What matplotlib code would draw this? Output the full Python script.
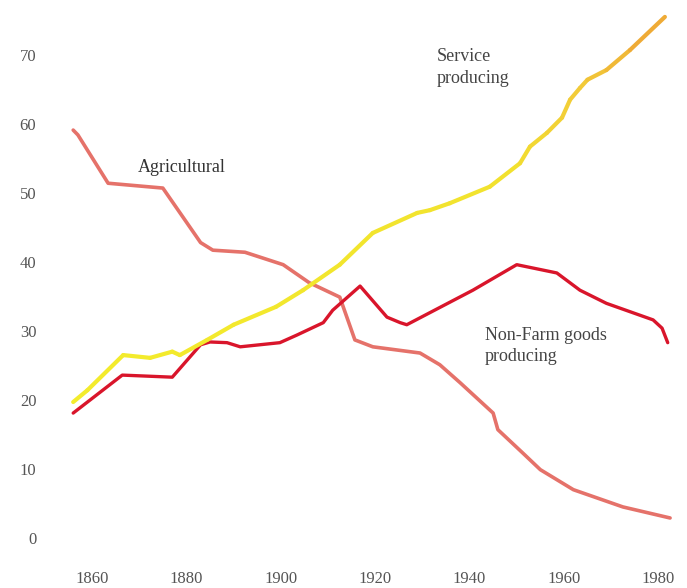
import numpy as np
import matplotlib.pyplot as plt
from matplotlib.collections import LineCollection
from matplotlib.colors import LinearSegmentedColormap

# share of employment (%)
agri_years = [1856, 1857, 1863.4, 1875, 1883, 1885.6, 1892.4, 1900.5, 1906, 1912.5,
              1915.7, 1919.5, 1929.5, 1933.7, 1938, 1945, 1946, 1951.3, 1955, 1962,
              1972.5, 1982.5]
agri_vals = [59.1, 58.4, 51.4, 50.7, 42.8, 41.7, 41.4, 39.6, 37.0, 34.9,
             28.7, 27.7, 26.8, 25.1, 22.5, 18.1, 15.7, 12.3, 9.9, 7.0,
             4.5, 2.9]

serv_years = [1856, 1859, 1866.6, 1872.3, 1877, 1878.6, 1884.4, 1890, 1899, 1904.7,
              1912.5, 1919.5, 1928.9, 1931.6, 1935.8, 1944.3, 1950.7, 1952.8, 1956.4,
              1959.6, 1961.3, 1963.4, 1965, 1969, 1974, 1981.4]
serv_vals = [19.7, 21.4, 26.5, 26.1, 27.0, 26.5, 28.7, 30.9, 33.5, 35.9,
             39.6, 44.2, 47.1, 47.5, 48.5, 50.9, 54.3, 56.7, 58.7,
             60.9, 63.5, 65.2, 66.4, 67.8, 70.7, 75.5]

goods_years = [1856, 1866.4, 1877, 1883, 1885, 1888.6, 1891.4, 1899.8, 1903.4, 1909,
               1911, 1916.8, 1922.5, 1925.3, 1926.7, 1940.7, 1950, 1958.5, 1963.4,
               1969, 1978.9, 1980.8, 1982]
goods_vals = [18.1, 23.6, 23.3, 28.0, 28.4, 28.3, 27.7, 28.3, 29.4, 31.2,
              33.0, 36.5, 32.0, 31.2, 30.9, 35.9, 39.6, 38.4, 35.9,
              34.0, 31.6, 30.4, 28.3]

x_ticks = [1860, 1880, 1900, 1920, 1940, 1960, 1980]
y_ticks = [0, 10, 20, 30, 40, 50, 60, 70]

fig = plt.figure(figsize=(6.87, 5.88), dpi=100)
ax = fig.add_axes([0.0873, 0.0476, 0.9025, 0.9354])

ax.plot(agri_years, agri_vals, color="#e5726a", lw=2.6, solid_capstyle="round")
ax.plot(goods_years, goods_vals, color="#d9152b", lw=2.4, solid_capstyle="round")

# service line is yellow, turning orange near the end
pts = np.column_stack([serv_years, serv_vals])
segs = np.stack([pts[:-1], pts[1:]], axis=1)
cmap = LinearSegmentedColormap.from_list(
    "serv", [(0, "#f3ec2c"), (0.72, "#f2e22e"), (0.85, "#f2cc38"), (1, "#eea235")])
mid = (np.array(serv_years[:-1]) + np.array(serv_years[1:])) / 2
lc = LineCollection(segs, colors=cmap((mid - 1856) / (1982 - 1856)), linewidths=3.0,
                    capstyle="round")
ax.add_collection(lc)

font = "Liberation Serif"
ax.text(1869.7, 53.0, "Agricultural", family=font, fontsize=13, color="#333333")
ax.text(1933.1, 71.0, "Service\nproducing", family=font, fontsize=13, color="#444444",
        va="top", linespacing=1.35)
ax.text(1943.3, 30.6, "Non-Farm goods\nproducing", family=font, fontsize=13,
        color="#444444", va="top", linespacing=1.35)

ax.set_xlim(1853.2, 1984.6)
ax.set_ylim(-3.19, 76.5)
ax.set_xticks(x_ticks)
ax.set_yticks(y_ticks)
ax.tick_params(length=0, labelsize=12, labelcolor="#555555")
ax.tick_params(axis="y", pad=17)
ax.tick_params(axis="x", pad=8)
for lab in ax.get_xticklabels() + ax.get_yticklabels():
    lab.set_family(font)
for s in ax.spines.values():
    s.set_visible(False)

fig.savefig("out.png", dpi=100)
